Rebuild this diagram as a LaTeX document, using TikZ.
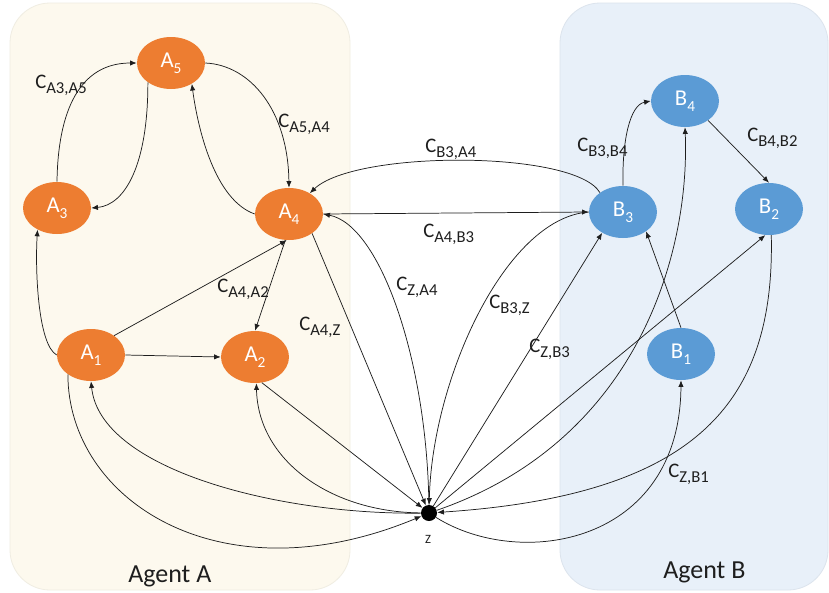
\documentclass[tikz,border=0pt]{standalone}
\usepackage{fontspec}
\setmainfont{Carlito}
\usepackage{tikz}
\usetikzlibrary{arrows.meta,shapes.geometric,positioning}
\definecolor{naranja}{RGB}{237,125,49}
\definecolor{azul}{RGB}{91,155,213}
\definecolor{cremaA}{RGB}{253,249,238}
\definecolor{celesteB}{RGB}{232,240,249}
\definecolor{tinta}{RGB}{30,30,30}
\newcommand{\indice}[1]{\raisebox{-0.28em}{\fontsize{11.5}{12}\selectfont #1}}
\newcommand{\costo}[1]{C\raisebox{-0.26em}{\fontsize{12.5}{13}\selectfont #1}}
\tikzset{
  agente/.style={rounded corners=30pt,line width=0.6pt},
  nodoA/.style={ellipse,fill=naranja,text=white,minimum width=51pt,minimum height=39pt,inner sep=0pt,font=\fontsize{17}{20}\selectfont},
  nodoB/.style={nodoA,fill=azul},
  sumidero/.style={circle,fill=black,minimum size=12pt,inner sep=0pt},
  arista/.style={-{Latex[length=5pt,width=4pt]},draw=tinta,line width=0.55pt},
  etiq/.style={anchor=base west,inner sep=0pt,text=tinta,font=\fontsize{15.5}{18}\selectfont},
  titulo/.style={etiq,font=\fontsize{19.5}{22}\selectfont}
}

\begin{document}
\begin{tikzpicture}[x=0.75pt,y=-0.75pt]
\useasboundingbox (0,0) rectangle (829,593);
\fill[white] (0,0) rectangle (829,593);
% agentes
\draw[agente,fill=cremaA,draw=cremaA!95!black] (10,3) rectangle (350,590);
\draw[agente,fill=celesteB,draw=celesteB!95!black] (560,3) rectangle (828,590);
\node[titulo] (agA) at (128,582) {Agent A};
\node[titulo] (agB) at (663,578) {Agent B};

\node[nodoA] (a5) at (171,63) {A\indice{5}};
\node[nodoA] (a3) at (57,208) {A\indice{3}};
\node[nodoA] (a4) at (289,214) {A\indice{4}};
\node[nodoA] (a1) at (91,355) {A\indice{1}};
\node[nodoA] (a2) at (255,357) {A\indice{2}};
\node[nodoB] (b4) at (685,101) {B\indice{4}};
\node[nodoB] (b3) at (623,212) {B\indice{3}};
\node[nodoB] (b2) at (769,209) {B\indice{2}};
\node[nodoB] (b1) at (681,354) {B\indice{1}};
\node[sumidero] (z) at (429,513) {};
\node[text=tinta,inner sep=0pt,font=\fontsize{9.5}{11}\selectfont] (zeta) at (428,539) {Z};

% dentro de A
\draw[arista] (a3.north) .. controls (58,110) and (80,63) .. (a5.west);
\draw[arista] (a5.220) .. controls (148,165) and (125,205) .. (a3.east);
\draw[arista] (a5.east) .. controls (250,65) and (288,110) .. (a4.north);
\draw[arista] (a4.west) .. controls (215,200) and (198,130) .. (a5.-45);
\draw[arista] (a1.west) .. controls (38,345) and (35,270) .. (a3.228);
\draw[arista] (a1.40) -- (a4.265);
\draw[arista] (a4.262) -- (a2.north);
\draw[arista] (a1.east) -- (a2.west);
% entre A y B
\draw[arista] (b3.140) .. controls (575,150) and (355,150) .. (a4.45);
\draw[arista] (a4.east) -- (b3.west);
% dentro de B
\draw[arista] (b3.north) .. controls (622,140) and (630,105) .. (b4.west);
\draw[arista] (b4.-40) -- (b2.north);
\draw[arista] (b1.north) -- (b3.-40);
% con Z
\draw[arista] (a4.-40) -- (z);
\draw[arista] (a2.-75) -- (z);
\draw[arista] (z) .. controls (427,360) and (380,225) .. (a4.east);
\draw[arista] (b3.west) .. controls (505,218) and (432,380) .. (z);
\draw[arista] (z) -- (b3.225);
\draw[arista] (z) .. controls (640,440) and (690,250) .. (b4.south);
\draw[arista] (z) -- (b2.262);
\draw[arista] (b2.275) .. controls (775,400) and (700,495) .. (z);
\draw[arista] (z) .. controls (520,570) and (680,545) .. (b1.south);
\draw[arista] (z) .. controls (280,515) and (100,470) .. (a1.south);
\draw[arista] (a1.220) .. controls (68,500) and (220,600) .. (z);
\draw[arista] (z) .. controls (330,512) and (258,460) .. (a2.-87);

% costos
\node[etiq] (cA3A5) at (35,88) {\costo{A3,A5}};
\node[etiq] (cA5A4) at (278,127) {\costo{A5,A4}};
\node[etiq] (cA4A2) at (217,292) {\costo{A4,A2}};
\node[etiq] (cA4Z) at (299,330) {\costo{A4,Z}};
\node[etiq] (cZA4) at (396,290) {\costo{Z,A4}};
\node[etiq] (cB3Z) at (489,308) {\costo{B3,Z}};
\node[etiq] (cZB3) at (529,352) {\costo{Z,B3}};
\node[etiq] (cA4B3) at (423,237) {\costo{A4,B3}};
\node[etiq] (cB3A4) at (425,152) {\costo{B3,A4}};
\node[etiq] (cB3B4) at (577,151) {\costo{B3,B4}};
\node[etiq] (cB4B2) at (747,141) {\costo{B4,B2}};
\node[etiq] (cZB1) at (668,477) {\costo{Z,B1}};
\end{tikzpicture}
\end{document}
